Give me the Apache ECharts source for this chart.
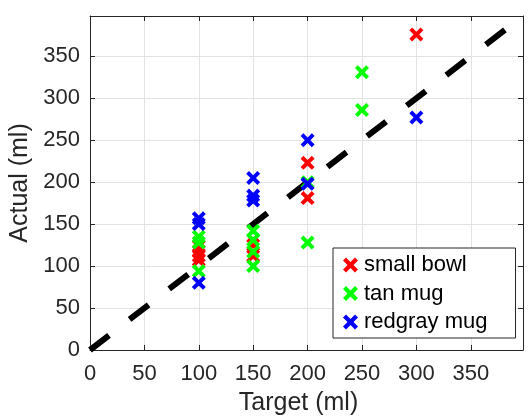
<!DOCTYPE html>
<html>
<head>
<meta charset="utf-8">
<script src="https://cdn.jsdelivr.net/npm/echarts@6/dist/echarts.min.js"></script>
<style>
html,body{margin:0;padding:0;background:#fff;}
#chart{width:531px;height:416px;}
</style>
</head>
<body>
<div id="chart"></div>
<script>
// ---- data ----
const seriesNames = ['small bowl', 'tan mug', 'redgray mug'];
const smallBowlTarget = [100, 100, 100, 100, 150, 150, 200, 200, 300];
const smallBowlActual = [124, 118, 112, 107, 125, 112, 223, 181, 376];
const tanMugTarget = [100, 100, 100, 150, 150, 150, 150, 200, 200, 250, 250];
const tanMugActual = [135, 128, 94, 142, 131, 117, 100, 200, 128, 331, 286];
const redgrayMugTarget = [100, 100, 100, 150, 150, 150, 200, 200, 300];
const redgrayMugActual = [157, 150, 80, 205, 184, 178, 250, 198, 277];
const refLineX = [0, 400];
const refLineY = [0, 400];
const axisTicks = [0, 50, 100, 150, 200, 250, 300, 350];

function pairs(xs, ys) { return xs.map((x, i) => [x, ys[i]]); }

const xMark = 'path://M2,0 L5,3 L8,0 L10,2 L7,5 L10,8 L8,10 L5,7 L2,10 L0,8 L3,5 L0,2 Z';
const txt = '#262626';
const font = 'Liberation Sans, Arial, Helvetica, sans-serif';
const axMax = 398;
const fmt = v => (axisTicks.indexOf(v) >= 0 ? String(v) : '');

function baseAxis(extra) {
  return Object.assign({
    type: 'value', min: 0, max: axMax, interval: 50,
    axisLine: { show: true, onZero: false, lineStyle: { color: txt, width: 1 } },
    axisTick: { show: true, inside: true, length: 5, lineStyle: { color: txt } },
    splitLine: { show: true, lineStyle: { color: '#e3e3e3', width: 1 } },
    axisLabel: { color: txt, fontSize: 22, fontFamily: font, showMaxLabel: false, formatter: fmt }
  }, extra);
}

const chart = echarts.init(document.getElementById('chart'), null, { renderer: 'canvas' });
chart.setOption({
  backgroundColor: '#fff',
  animation: false,
  grid: { left: 90, right: 8, top: 16, bottom: 66, show: false, containLabel: false, outerBoundsMode: 'none' },
  xAxis: [
    baseAxis({ position: 'bottom', name: 'Target (ml)', nameLocation: 'middle', nameGap: 41,
      nameTextStyle: { color: txt, fontSize: 25, fontFamily: font, padding: [0, 16, 0, 0] },
      axisLabel: { color: txt, fontSize: 22, fontFamily: font, margin: 13, showMaxLabel: false, formatter: fmt } }),
    baseAxis({ position: 'top', splitLine: { show: false }, axisLabel: { show: false } })
  ],
  yAxis: [
    baseAxis({ position: 'left', name: 'Actual (ml)', nameLocation: 'middle', nameGap: 48,
      nameTextStyle: { color: txt, fontSize: 25, fontFamily: font },
      axisLabel: { color: txt, fontSize: 22, fontFamily: font, margin: 10, showMaxLabel: false, formatter: fmt } }),
    baseAxis({ position: 'right', splitLine: { show: false }, axisLabel: { show: false } })
  ],
  legend: {
    orient: 'vertical', left: 333, top: 248,
    data: seriesNames.map(n => ({ name: n, icon: xMark })),
    itemWidth: 15, itemHeight: 15, itemGap: 6.5,
    padding: [6, 28, 5, 10],
    backgroundColor: '#fff', borderColor: txt, borderWidth: 1, borderRadius: 0,
    textStyle: { color: '#000', fontSize: 22, fontFamily: font, lineHeight: 22, padding: [0, 0, 0, 1] }
  },
  series: [
    {
      type: 'line', data: pairs(refLineX, refLineY), symbol: 'none', silent: true, z: 1,
      lineStyle: { color: '#000', width: 6, type: [24, 26], cap: 'butt' }, clip: true
    },
    { name: seriesNames[0], type: 'scatter', data: pairs(smallBowlTarget, smallBowlActual),
      symbol: xMark, symbolSize: 14, itemStyle: { color: '#ff0000', opacity: 1 }, z: 3 },
    { name: seriesNames[1], type: 'scatter', data: pairs(tanMugTarget, tanMugActual),
      symbol: xMark, symbolSize: 14, itemStyle: { color: '#00ff00', opacity: 1 }, z: 4 },
    { name: seriesNames[2], type: 'scatter', data: pairs(redgrayMugTarget, redgrayMugActual),
      symbol: xMark, symbolSize: 14, itemStyle: { color: '#0000ff', opacity: 1 }, z: 5 }
  ]
});
</script>
</body>
</html>
